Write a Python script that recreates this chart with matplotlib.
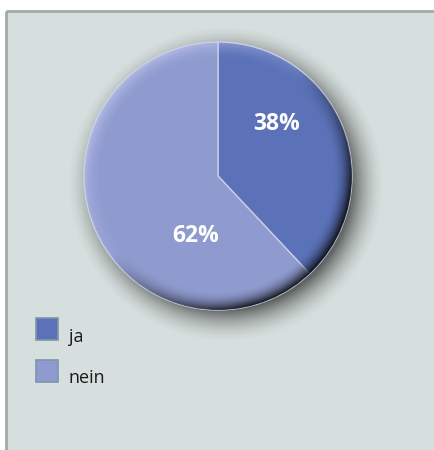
import numpy as np
import matplotlib
matplotlib.use("Agg")
import matplotlib.pyplot as plt
from matplotlib.patches import Rectangle, Circle

categories = ["ja", "nein"]
values = [38, 62]
pct_labels = ["38%", "62%"]
colors = ["#5b72b8", "#8f9bcf"]

W, H = 435, 450
fig = plt.figure(figsize=(W / 100, H / 100), dpi=100)
ax = fig.add_axes([0, 0, 1, 1])
ax.set_xlim(0, W)
ax.set_ylim(0, H)
ax.set_aspect("equal")
ax.axis("off")

# panel background and border
ax.add_patch(Rectangle((6, 0), W - 6, H - 11, facecolor="#d6dfdd", edgecolor="none", zorder=0))
ax.plot([6, 6], [0, H - 11], color="#a1aba9", lw=2, zorder=1, solid_capstyle="butt")
ax.plot([6, W], [H - 11, H - 11], color="#a1aba9", lw=2, zorder=1, solid_capstyle="butt")

cx, cy, R = 218, H - 176, 134

# soft shadow
n = 400
ext = R + 50
xs = np.linspace(cx - ext, cx + ext, n)
ys = np.linspace(cy - ext, cy + ext, n)
X, Y = np.meshgrid(xs, ys)
ds = np.hypot(X - (cx + 8), Y - (cy - 8))
sh_alpha = np.clip(1 - (ds - (R - 8)) / 34, 0, 1) ** 1.8 * 0.55
sh = np.zeros((n, n, 4))
sh[..., 3] = sh_alpha
ax.imshow(sh, extent=(xs[0], xs[-1], ys[0], ys[-1]), origin="lower", zorder=2, interpolation="bilinear")

wedges, _ = ax.pie(values, colors=colors, startangle=90, counterclock=False,
                   center=(cx, cy), radius=R, frame=True,
                   wedgeprops=dict(edgecolor="#c9cde3", linewidth=1.0))
for w in wedges:
    w.set_zorder(3)
ax.set_xlim(0, W)
ax.set_ylim(0, H)
ax.axis("off")

# bevel shading
d = np.hypot(X - cx, Y - cy) / R
ux = (X - cx) / (np.hypot(X - cx, Y - cy) + 1e-9)
uy = (Y - cy) / (np.hypot(X - cx, Y - cy) + 1e-9)
dirv = ux * 0.7071 - uy * 0.7071  # toward lower right
rim = np.clip((d - 0.86) / 0.14, 0, 1) ** 2
dark = rim * np.clip(0.15 + dirv, 0, 1) * 0.85
light = rim * np.clip(-dirv + 0.1, 0, 1) * 0.45
a = dark + light
ov = np.zeros((n, n, 4))
frac = np.where(a > 0, light / (a + 1e-9), 0)
ov[..., 0] = frac * 0.86
ov[..., 1] = frac * 0.87
ov[..., 2] = frac * 1.0
ov[..., 3] = np.clip(a, 0, 1)
im = ax.imshow(ov, extent=(xs[0], xs[-1], ys[0], ys[-1]), origin="lower", zorder=4, interpolation="bilinear")
im.set_clip_path(Circle((cx, cy), R, transform=ax.transData))

# percentage labels
label_pos = [(277, H - 124), (196, H - 236)]
for (x, y), t in zip(label_pos, pct_labels):
    ax.text(x, y, t, color="white", fontsize=16.5, fontweight="bold", family="Open Sans",
            ha="center", va="center", zorder=6)

# legend
sq_top = [318, 360]
txt_base = [342, 383]
for st, tb, c, lab in zip(sq_top, txt_base, colors, categories):
    ax.add_patch(Rectangle((36.5, H - st - 22), 22, 22, facecolor=c, edgecolor="#7b95ab", lw=1.2, zorder=6))
    ax.text(69, H - tb, lab, fontsize=13, family="Open Sans", color="#1a1a1a",
            ha="left", va="baseline", zorder=6)

ax.set_xlim(0, W)
ax.set_ylim(0, H)
fig.savefig("out.png", dpi=100, facecolor="white")
